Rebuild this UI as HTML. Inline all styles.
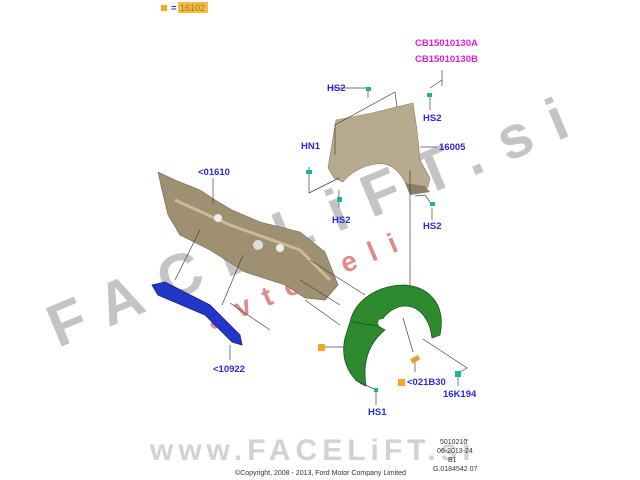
<!DOCTYPE html>
<html><head><meta charset="utf-8"><style>
html,body{margin:0;padding:0;background:#fff;}
svg{display:block}
.l{font-family:"Liberation Sans",sans-serif;font-weight:bold;font-size:9.5px;fill:#2a2adc}
.m{font-family:"Liberation Sans",sans-serif;font-weight:bold;font-size:9.5px;fill:#e020d0}
.s{font-family:"Liberation Sans",sans-serif;font-size:7px;fill:#333}
</style></head><body>
<svg width="640" height="480" viewBox="0 0 640 480" xmlns="http://www.w3.org/2000/svg">
<rect width="640" height="480" fill="#fff"/>
<!-- watermark -->
<g transform="translate(58,348) rotate(-22.5)">
<text x="0" y="0" font-family="Liberation Sans,sans-serif" font-weight="bold" font-size="60" fill="#c4c4c4" letter-spacing="21">FACELiFT.si</text>
</g>
<g transform="translate(212,330) rotate(-23)">
<text x="0" y="0" font-family="Liberation Sans,sans-serif" font-weight="bold" font-size="28" fill="#e08a8a" letter-spacing="14">avtodeli</text>
</g>
<text x="150" y="460" font-family="Liberation Sans,sans-serif" font-weight="bold" font-size="30" fill="#d2d2d2" letter-spacing="5">www.FACELiFT.si</text>

<!-- legend -->
<rect x="161" y="5" width="6" height="6" fill="#f5a623"/>
<text x="171" y="11" class="l" font-size="8">=</text>
<rect x="178" y="2" width="30" height="11" fill="#f5b84a"/>
<text x="180" y="11" font-family="Liberation Sans,sans-serif" font-size="9" fill="#b07a00">16102</text>

<!-- firewall -->
<path d="M158,172 L175,180 L200,190 L215,200 L232,210 L260,222 L300,232 L325,252 L338,285 L325,300 L305,298 L285,285 L245,272 L210,250 L180,235 L168,215 L162,190 Z" fill="#9e9070" stroke="#6e6450" stroke-width="0.6"/>
<path d="M175,200 L230,225 L300,250 L330,280" fill="none" stroke="#c9bc98" stroke-width="3"/>
<circle cx="218" cy="218" r="4" fill="#eee"/><circle cx="258" cy="245" r="5" fill="#ddd"/><circle cx="280" cy="248" r="4" fill="#eee"/>
<!-- crossbeam -->
<path d="M152,285 L165,282 L210,305 L240,335 L242,345 L232,342 L205,315 L158,295 Z" fill="#2236c8" stroke="#102090" stroke-width="0.8"/>
<!-- fender -->
<path d="M336,120 L372,113 L413,103 L417,130 L420,160 L430,178 L428,187 L408,188 C400,170 390,162 376,164 C360,166 348,175 343,182 L334,178 L328,168 Z" fill="#b8aa8c" stroke="#8a7e66" stroke-width="0.6"/>
<path d="M405,183 L425,186 L430,192 L410,195 Z" fill="#8a7e66"/>
<!-- wheel liner -->
<path d="M350,322 C355,300 378,285 405,285 C430,287 446,305 440,335 L432,338 C430,320 420,306 405,306 C392,306 382,318 378,326 L385,330 C370,342 362,360 366,386 C350,380 340,360 345,338 Z" fill="#2e8a2e" stroke="#175417" stroke-width="0.8"/>
<path d="M378,326 L352,322" stroke="#175417" stroke-width="0.8"/>
<circle cx="382" cy="323" r="4" fill="#fff"/>

<!-- leaders -->
<g stroke="#444" stroke-width="0.7" fill="none">
<line x1="213" y1="178" x2="213" y2="204"/>
<line x1="330" y1="88" x2="367" y2="88"/>
<polyline points="368,88 368,98"/>
<polyline points="335,155 335,125 395,92 397,107"/>
<line x1="420" y1="147" x2="437" y2="147"/>
<line x1="410" y1="170" x2="410" y2="290"/>
<polyline points="309,167 309,193 339,178"/>
<line x1="339" y1="190" x2="339" y2="207"/>
<line x1="430" y1="88" x2="442" y2="80"/>
<line x1="442" y1="70" x2="442" y2="86"/>
<line x1="430" y1="95" x2="430" y2="110"/>
<line x1="432" y1="208" x2="432" y2="220"/>
<polyline points="415,196 425,195 432,205"/>
<line x1="230" y1="303" x2="270" y2="330"/>
<line x1="300" y1="280" x2="340" y2="305"/>
<line x1="310" y1="260" x2="365" y2="295"/>
<line x1="305" y1="300" x2="340" y2="325"/>
<line x1="175" y1="280" x2="200" y2="230"/>
<line x1="222" y1="305" x2="243" y2="255"/>
<line x1="230" y1="345" x2="230" y2="360"/>
<line x1="325" y1="347" x2="345" y2="347"/>
<line x1="403" y1="318" x2="413" y2="352"/>
<line x1="415" y1="360" x2="415" y2="372"/>
<polyline points="423,339 467,368 460,372"/>
<line x1="458" y1="375" x2="458" y2="386"/>
<polyline points="355,380 376,390 376,405"/>
</g>
<!-- clips -->
<g fill="#20b0a0">
<rect x="366" y="87" width="5" height="4"/><rect x="427" y="93" width="5" height="4"/>
<rect x="306" y="170" width="6" height="4"/><rect x="337" y="197" width="5" height="5"/>
<rect x="430" y="202" width="5" height="4"/><rect x="455" y="371" width="6" height="6"/>
<rect x="374" y="388" width="4" height="4"/>
</g>
<rect x="411" y="357" width="9" height="5" fill="#e8a030" transform="rotate(-30 415 360)"/>
<rect x="318" y="344" width="7" height="7" fill="#f5a623"/>
<rect x="398" y="379" width="7" height="7" fill="#f5a623"/>

<!-- labels -->
<text x="415" y="46" class="m">CB15010130A</text>
<text x="415" y="62" class="m">CB15010130B</text>
<text x="327" y="91" class="l">HS2</text>
<text x="423" y="121" class="l">HS2</text>
<text x="301" y="149" class="l">HN1</text>
<text x="439" y="150" class="l">16005</text>
<text x="198" y="175" class="l">&lt;01610</text>
<text x="332" y="223" class="l">HS2</text>
<text x="423" y="229" class="l">HS2</text>
<text x="213" y="372" class="l">&lt;10922</text>
<text x="407" y="385" class="l">&lt;021B30</text>
<text x="443" y="397" class="l">16K194</text>
<text x="368" y="415" class="l">HS1</text>
<text x="440" y="444" class="s">5010210</text>
<text x="437" y="453" class="s">06-2013-24</text>
<text x="448" y="462" class="s">B1</text>
<text x="433" y="471" class="s">G.0184542 07</text>
<text x="235" y="475" class="s">©Copyright, 2008 - 2013, Ford Motor Company Limited</text>
</svg>
</body></html>
